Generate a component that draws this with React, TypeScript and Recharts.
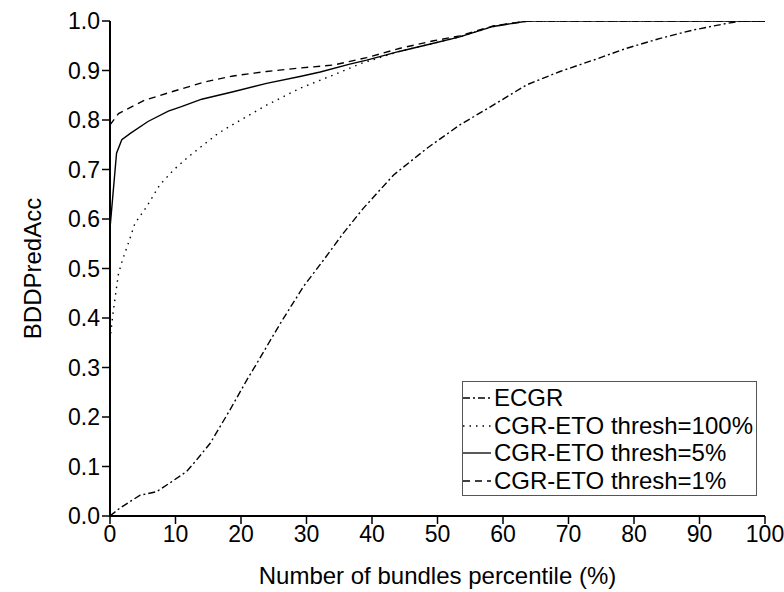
import React from 'react';
import { LineChart, Line, XAxis, YAxis, Legend, Label } from 'recharts';

const ecgrX = [0, 1.5, 4.6, 7.1, 9.5, 11.7, 13.2, 15.3, 18.3, 20.9, 22.4, 26, 29.5, 32.6, 35.6, 38.7, 43.3, 48.4, 53.4, 58.5, 63.6, 68.7, 73.8, 78.9, 84, 89.1, 94.1, 96.4, 100];
const ecgrY = [0, 0.016, 0.042, 0.049, 0.07, 0.09, 0.113, 0.147, 0.214, 0.275, 0.308, 0.389, 0.463, 0.517, 0.571, 0.622, 0.689, 0.743, 0.79, 0.83, 0.871, 0.898, 0.921, 0.945, 0.965, 0.982, 0.995, 1.0, 1.0];

const t100X = [0, 0.4, 0.8, 1.3, 1.9, 2.8, 3.8, 5.6, 7.6, 9.7, 12, 14.2, 16.5, 19.8, 23.9, 29, 34.1, 38.5, 44.3, 49.4, 53.4, 58.5, 63.8, 100];
const t100Y = [0.356, 0.403, 0.443, 0.49, 0.517, 0.551, 0.591, 0.625, 0.669, 0.699, 0.726, 0.749, 0.773, 0.799, 0.83, 0.864, 0.891, 0.915, 0.939, 0.955, 0.968, 0.989, 1.0, 1.0];

const t5X = [0, 1.0, 1.8, 3.1, 5.8, 8.9, 10.9, 14, 18.8, 23.9, 29, 32.1, 36.6, 39.2, 44.3, 49.4, 53.4, 58.5, 63.8, 100];
const t5Y = [0.581, 0.733, 0.76, 0.773, 0.797, 0.818, 0.827, 0.842, 0.857, 0.874, 0.888, 0.897, 0.913, 0.921, 0.939, 0.955, 0.968, 0.989, 1.0, 1.0];

const t1X = [0, 1.3, 3.8, 5.3, 9.4, 14.5, 18.8, 23.9, 29, 34.1, 39.2, 44.3, 49.4, 53.4, 58.5, 63.8, 100];
const t1Y = [0.79, 0.813, 0.83, 0.84, 0.857, 0.877, 0.889, 0.898, 0.905, 0.911, 0.926, 0.945, 0.96, 0.97, 0.99, 1.0, 1.0];

const xTicks = [0, 10, 20, 30, 40, 50, 60, 70, 80, 90, 100];
const yTicks = [0, 0.1, 0.2, 0.3, 0.4, 0.5, 0.6, 0.7, 0.8, 0.9, 1.0];

const seriesNames = ['ECGR', 'CGR-ETO thresh=100%', 'CGR-ETO thresh=5%', 'CGR-ETO thresh=1%'];
const dashes = ['7 3 2 3', '1.5 5', '', '7 5'];

const toPts = (xs: number[], ys: number[]) => xs.map((x, i) => ({ x, y: ys[i] }));
const series = [
  toPts(ecgrX, ecgrY),
  toPts(t100X, t100Y),
  toPts(t5X, t5Y),
  toPts(t1X, t1Y),
];

const FONT = '"Liberation Sans", Arial, sans-serif';

const LegendBox = () => (
  <div
    style={{
      border: '1px solid #555',
      background: '#fff',
      width: 295,
      height: 115,
      boxSizing: 'border-box',
      paddingTop: 2,
      fontFamily: FONT,
      fontSize: 24,
      color: '#000',
      textAlign: 'left',
    }}
  >
    {seriesNames.map((n, i) => (
      <div key={n} style={{ display: 'flex', alignItems: 'center', height: 27.7, whiteSpace: 'nowrap' }}>
        <svg width={30} height={10} style={{ marginRight: 1 }}>
          <line x1={0} y1={5} x2={28} y2={5} stroke="#000" strokeWidth={1.3} strokeDasharray={dashes[i] || undefined} />
        </svg>
        <span>{n}</span>
      </div>
    ))}
  </div>
);

export default function App() {
  return (
    <div style={{ position: 'absolute', left: 0, top: 0, width: 784, height: 592, background: '#fff' }}>
      <LineChart width={784} height={592} margin={{ top: 21, right: 19, left: 0, bottom: 0 }}>
        <XAxis
          type="number"
          dataKey="x"
          domain={[0, 100]}
          ticks={xTicks}
          height={76}
          tickSize={8}
          axisLine={{ stroke: '#000', strokeWidth: 2 }}
          tickLine={{ stroke: '#000', strokeWidth: 1.5 }}
          tick={{ fill: '#000', fontSize: 23, fontFamily: FONT }}
          allowDataOverflow
        >
          <Label
            value="Number of bundles percentile (%)"
            position="insideBottom"
            offset={8}
            style={{ fill: '#000', fontSize: 24, fontFamily: FONT }}
          />
        </XAxis>
        <YAxis
          type="number"
          domain={[0, 1]}
          ticks={yTicks}
          width={110}
          tickSize={8}
          axisLine={{ stroke: '#000', strokeWidth: 2 }}
          tickLine={{ stroke: '#000', strokeWidth: 1.5 }}
          tickFormatter={(v: number) => v.toFixed(1)}
          tick={{ fill: '#000', fontSize: 23, fontFamily: FONT }}
          allowDataOverflow
        >
          <Label
            content={(props: any) => {
              const vb = props.viewBox || { x: 0, y: 21, width: 110, height: 495 };
              const cx = vb.x + 32;
              const cy = vb.y + vb.height / 2;
              return (
                <text
                  x={cx}
                  y={cy}
                  transform={`rotate(-90 ${cx} ${cy})`}
                  textAnchor="middle"
                  dominantBaseline="central"
                  style={{ fill: '#000', fontSize: 24, fontFamily: FONT }}
                >
                  BDDPredAcc
                </text>
              );
            }}
          />
        </YAxis>
        {series.map((d, i) => (
          <Line
            key={seriesNames[i]}
            data={d}
            dataKey="y"
            name={seriesNames[i]}
            type="linear"
            stroke="#000"
            strokeWidth={1.4}
            strokeDasharray={dashes[i] || undefined}
            dot={false}
            activeDot={false}
            isAnimationActive={false}
          />
        ))}
        <Legend
          layout="vertical"
          align="center"
          verticalAlign="middle"
          content={() => <LegendBox />}
          wrapperStyle={{ position: 'absolute', left: 462, top: 381, width: 295, height: 115, margin: 0 }}
        />
      </LineChart>
    </div>
  );
}
